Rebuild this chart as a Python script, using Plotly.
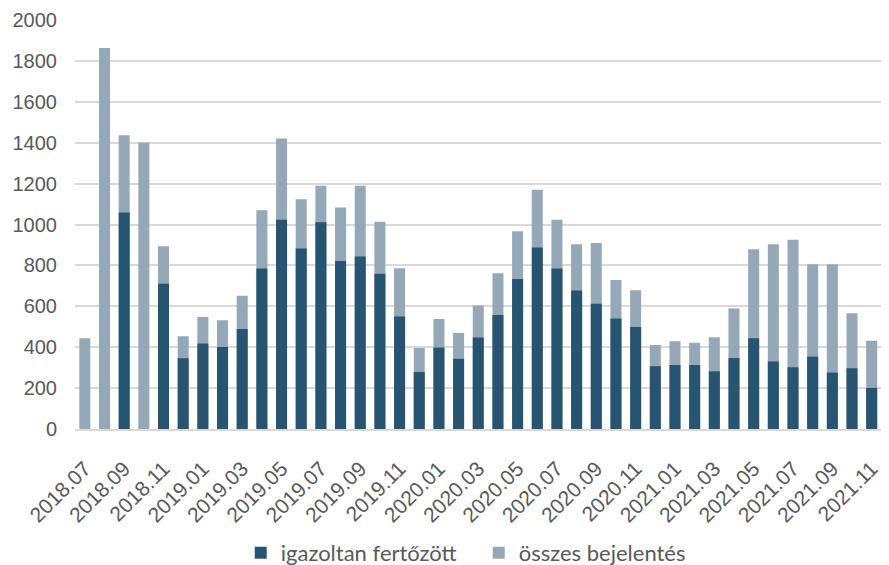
import plotly.graph_objects as go

months = [
    "2018.07", "2018.08", "2018.09", "2018.10", "2018.11", "2018.12",
    "2019.01", "2019.02", "2019.03", "2019.04", "2019.05", "2019.06",
    "2019.07", "2019.08", "2019.09", "2019.10", "2019.11", "2019.12",
    "2020.01", "2020.02", "2020.03", "2020.04", "2020.05", "2020.06",
    "2020.07", "2020.08", "2020.09", "2020.10", "2020.11", "2020.12",
    "2021.01", "2021.02", "2021.03", "2021.04", "2021.05", "2021.06",
    "2021.07", "2021.08", "2021.09", "2021.10", "2021.11", "2021.12",
]

osszes = [
    444, 1863, 1437, 1400, 894, 453,
    548, 532, 651, 1070, 1421, 1124,
    1189, 1083, 1189, 1013, 786, 396,
    538, 470, 604, 762, 967, 1170,
    1023, 904, 910, 728, 679, 411,
    429, 422, 449, 589, 879, 904,
    925, 806, 806, 566, 432, 264,
]

igazolt = [
    None, None, 1059, None, 710, 346,
    418, 401, 489, 785, 1023, 883,
    1011, 822, 843, 759, 550, 279,
    398, 343, 447, 558, 734, 887,
    785, 677, 612, 540, 499, 307,
    313, 313, 282, 347, 444, 330,
    302, 354, 276, 297, 201, 153,
]

tick_labels = months[::2]
y_ticks = list(range(0, 2001, 200))

fig = go.Figure()
fig.add_trace(go.Bar(
    x=months, y=osszes, name="összes bejelentés",
    marker=dict(color="#94A8B8", line=dict(width=0)),
    legendrank=2,
))
fig.add_trace(go.Bar(
    x=months, y=igazolt, name="igazoltan fertőzött",
    marker=dict(color="#265471", line=dict(width=0)),
    legendrank=1,
))

# page body has an 8px margin, so the figure is sized/offset to compensate
fig.update_layout(
    template="none",
    width=881, height=557,
    margin=dict(l=67, r=0, t=12, b=136, autoexpand=False),
    barmode="overlay",
    bargap=0.44,
    plot_bgcolor="white",
    paper_bgcolor="white",
    font=dict(family="Liberation Sans, Arial, sans-serif", color="#595959", size=19.5),
    showlegend=True,
    legend=dict(
        orientation="h", x=0.496, xanchor="center", y=-0.303, yanchor="middle",
        font=dict(family="Lato, sans-serif", size=22, color="#595959"),
        itemwidth=30,
        entrywidth=193, entrywidthmode="pixels",
        bgcolor="rgba(0,0,0,0)",
    ),
)
fig.update_xaxes(
    type="category",
    range=[-0.5, 40.88],
    tickmode="array", tickvals=tick_labels, ticktext=tick_labels,
    tickangle=-45,
    tickfont=dict(size=21),
    showgrid=False,
    showline=True, linecolor="#d9d9d9", linewidth=2,
    ticks="", automargin=False,
    ticklabelstandoff=17,
)
fig.update_yaxes(
    range=[0, 2000],
    tickmode="array", tickvals=y_ticks,
    tickfont=dict(size=20),
    showgrid=True, gridcolor="#d9d9d9", gridwidth=1.5,
    zeroline=False, showline=False,
    ticks="", automargin=False,
    ticklabelstandoff=17,
)

fig.write_html("out.html")
